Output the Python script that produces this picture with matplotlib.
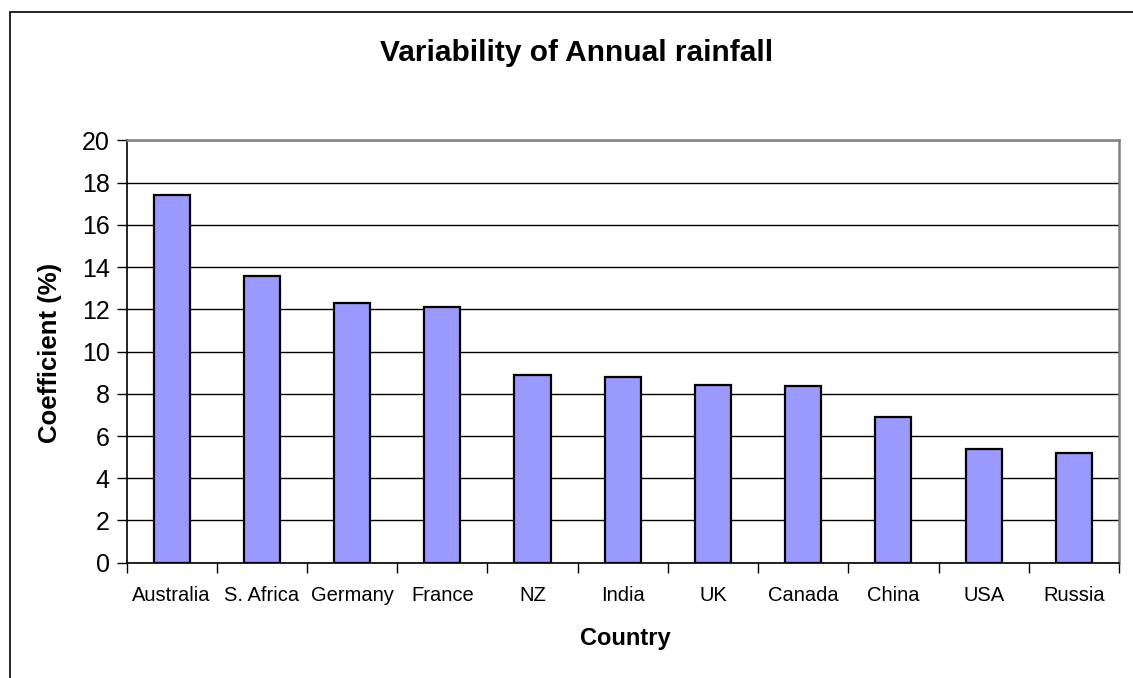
import matplotlib
matplotlib.use("Agg")
import matplotlib.pyplot as plt
from matplotlib.patches import Rectangle
import numpy as np

countries = ["Australia", "S. Africa", "Germany", "France", "NZ", "India",
             "UK", "Canada", "China", "USA", "Russia"]
coefficient = [17.4, 13.6, 12.3, 12.1, 8.9, 8.8, 8.4, 8.35, 6.9, 5.4, 5.2]
y_ticks = list(range(0, 21, 2))

plt.rcParams["font.family"] = ["Liberation Sans", "DejaVu Sans"]

W, H = 1133, 678
fig = plt.figure(figsize=(W / 100, H / 100), dpi=100)
fig.patch.set_facecolor("white")

# chart-area frame (runs past the right and bottom edges of the figure)
fig.patches.append(Rectangle((10 / W, -0.5), 2.0, 1.5 - 12 / H,
                             transform=fig.transFigure, fill=False,
                             edgecolor="black", linewidth=1.2))

ax = fig.add_axes([126.5 / W, (H - 562.7) / H, (1119 - 126.5) / W, (562.7 - 140.5) / H])

x = np.arange(len(countries))
ax.bar(x, coefficient, width=0.4, color="#9999FF", edgecolor="black",
       linewidth=1.6, zorder=3)

ax.set_xlim(-0.5, len(countries) - 0.5)
ax.set_ylim(0, 20)
ax.set_yticks(y_ticks)
ax.set_yticklabels([str(v) for v in y_ticks], fontsize=18)
ax.yaxis.grid(True, color="black", linewidth=1.0, zorder=0)
ax.set_axisbelow(True)

# category labels centred on bars, tick marks on category boundaries
ax.set_xticks(x)
ax.set_xticklabels(countries, fontsize=14.5)
ax.tick_params(axis="x", which="major", length=0, pad=17)
ax.set_xticks(np.arange(len(countries) + 1) - 0.5, minor=True)
ax.tick_params(axis="x", which="minor", length=7, width=1.0, color="black")
ax.tick_params(axis="y", length=7, width=1.0, color="black", pad=5)

for side in ("top", "right"):
    ax.spines[side].set_color("#808080")
    ax.spines[side].set_linewidth(1.8)
for side in ("left", "bottom"):
    ax.spines[side].set_color("black")
    ax.spines[side].set_linewidth(1.2)

fig.text(50 / W, (H - 353) / H, "Coefficient (%)", rotation=90, ha="center",
         va="center", fontsize=18.5, fontweight="bold")
fig.text(625 / W, (H - 638) / H, "Country", ha="center", va="center",
         fontsize=17, fontweight="bold")
fig.text(577 / W, (H - 61) / H, "Variability of Annual rainfall", ha="center",
         va="baseline", fontsize=21.5, fontweight="bold")

fig.savefig("out.png", dpi=100, facecolor="white")
